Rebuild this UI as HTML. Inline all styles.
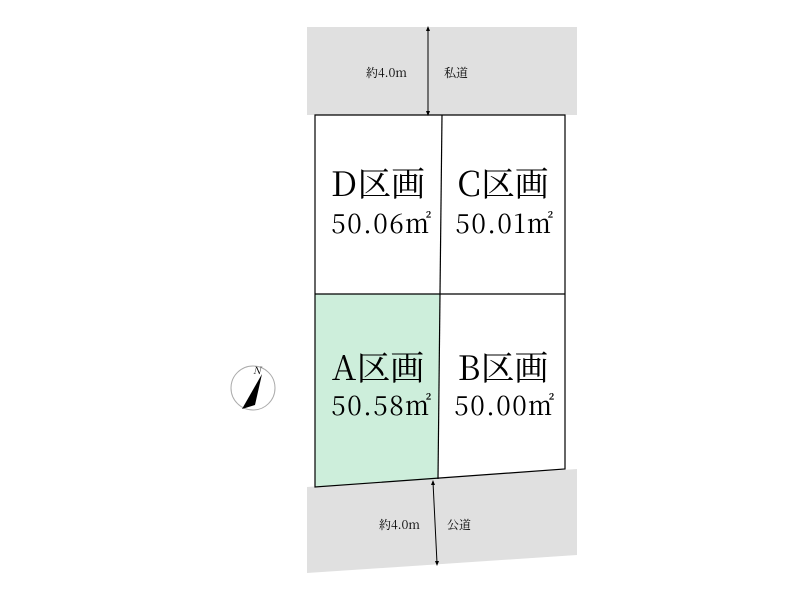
<!DOCTYPE html>
<html><head><meta charset="utf-8"><style>
body{margin:0;background:#fff;}
svg text{font-family:"Noto Serif CJK JP","Noto Serif CJK SC",serif;}
</style></head><body>
<svg width="800" height="600" viewBox="0 0 800 600" xmlns="http://www.w3.org/2000/svg">
<rect x="307" y="27" width="270" height="88" fill="#e0e0e0"/>
<polygon points="307,487 577,469 577,555 307,573" fill="#e0e0e0"/>
<polygon points="315,294 440,294 438,479 315,487" fill="#cdeedb"/>
<g stroke="#000" stroke-width="1.2" fill="none">
<polygon points="315,115 565,115 565,469 315,487"/>
<line x1="442" y1="115" x2="440" y2="294"/>
<line x1="440" y1="294" x2="438" y2="479"/>
<line x1="315" y1="294" x2="565" y2="294"/>
</g>
<g stroke="#000" stroke-width="1">
<line x1="428" y1="29" x2="428" y2="113"/>
<line x1="433" y1="482" x2="437" y2="563"/>
</g>
<polygon points="428,26 426,31 430,31"/><polygon points="428,116 426,111 430,111"/>
<polygon points="433,480 431,485 435,485"/><polygon points="437,566 435,561 439,561"/>
<g font-size="12" fill="#000">
<text x="366" y="77">約4.0m</text><text x="444" y="77">私道</text>
<text x="379" y="529">約4.0m</text><text x="447" y="529">公道</text>
</g>
<g font-size="34" text-anchor="middle" fill="#000">
<text x="378" y="196">D区画</text><text x="503" y="196">C区画</text>
<text x="378" y="380">A区画</text><text x="503" y="380">B区画</text>
</g>
<g font-size="26" text-anchor="middle" fill="#000" letter-spacing="1.5">
<text x="382" y="233">50.06㎡</text><text x="505" y="233">50.01㎡</text>
<text x="382" y="415">50.58㎡</text><text x="505" y="415">50.00㎡</text>
</g>
<circle cx="253" cy="388" r="22" fill="#fff" stroke="#aaa"/>
<polygon points="262,374 242,409 255,405" fill="#000"/>
<text x="253" y="374" font-size="10" font-style="italic" fill="#000">N</text>
</svg>
</body></html>
